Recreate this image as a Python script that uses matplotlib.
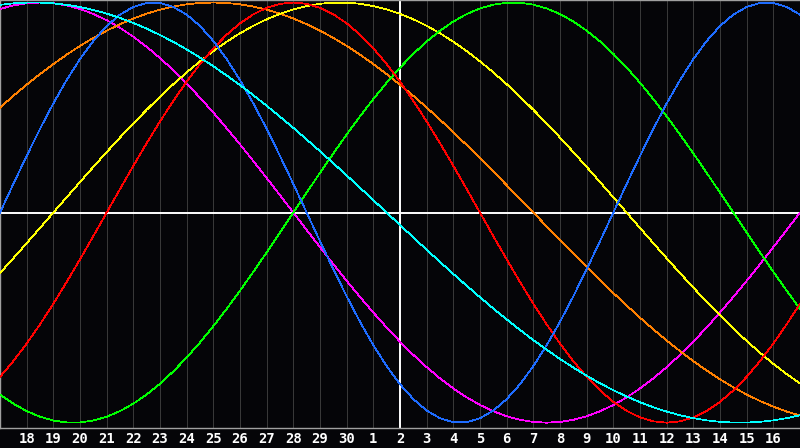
import matplotlib
matplotlib.use('Agg')
import matplotlib.pyplot as plt
import numpy as np

# day labels along the bottom (17th at both edges is not labelled)
day_labels = ['18', '19', '20', '21', '22', '23', '24', '25', '26', '27', '28', '29', '30',
              '1', '2', '3', '4', '5', '6', '7', '8', '9', '10', '11', '12', '13', '14', '15', '16']

# values every half day, from day 17 to day 17 of next month (61 points each)
physical = [0.0, 0.1362, 0.2698, 0.3984, 0.5196, 0.6311, 0.7308, 0.8170, 0.8879, 0.9423,
            0.9791, 0.9977, 0.9977, 0.9791, 0.9423, 0.8879, 0.8170, 0.7308, 0.6311, 0.5196,
            0.3984, 0.2698, 0.1362, 0.0, -0.1362, -0.2698, -0.3984, -0.5196, -0.6311, -0.7308,
            -0.8170, -0.8879, -0.9423, -0.9791, -0.9977, -0.9977, -0.9791, -0.9423, -0.8879, -0.8170,
            -0.7308, -0.6311, -0.5196, -0.3984, -0.2698, -0.1362, 0.0, 0.1362, 0.2698, 0.3984,
            0.5196, 0.6311, 0.7308, 0.8170, 0.8879, 0.9423, 0.9791, 0.9977, 0.9977, 0.9791,
            0.9423]
emotional = [-0.7818, -0.7071, -0.6235, -0.5320, -0.4339, -0.3303, -0.2225, -0.1120, 0.0, 0.1120,
             0.2225, 0.3303, 0.4339, 0.5320, 0.6235, 0.7071, 0.7818, 0.8467, 0.9010, 0.9439,
             0.9749, 0.9937, 1.0, 0.9937, 0.9749, 0.9439, 0.9010, 0.8467, 0.7818, 0.7071,
             0.6235, 0.5320, 0.4339, 0.3303, 0.2225, 0.1120, 0.0, -0.1120, -0.2225, -0.3303,
             -0.4339, -0.5320, -0.6235, -0.7071, -0.7818, -0.8467, -0.9010, -0.9439, -0.9749, -0.9937,
             -1.0, -0.9937, -0.9749, -0.9439, -0.9010, -0.8467, -0.7818, -0.7071, -0.6235, -0.5320,
             -0.4339]
intellectual = [-0.8660, -0.9096, -0.9450, -0.9718, -0.9898, -0.9989, -0.9989, -0.9898, -0.9718, -0.9450,
                -0.9096, -0.8660, -0.8146, -0.7557, -0.6901, -0.6182, -0.5406, -0.4582, -0.3717, -0.2817,
                -0.1893, -0.0951, 0.0, 0.0951, 0.1893, 0.2817, 0.3717, 0.4582, 0.5406, 0.6182,
                0.6901, 0.7557, 0.8146, 0.8660, 0.9096, 0.9450, 0.9718, 0.9898, 0.9989, 0.9989,
                0.9898, 0.9718, 0.9450, 0.9096, 0.8660, 0.8146, 0.7557, 0.6901, 0.6182, 0.5406,
                0.4582, 0.3717, 0.2817, 0.1893, 0.0951, 0.0, -0.0951, -0.1893, -0.2817, -0.3717,
                -0.4582]
intuitive = [0.9694, 0.9864, 0.9966, 1.0, 0.9966, 0.9864, 0.9694, 0.9458, 0.9158, 0.8795,
             0.8372, 0.7891, 0.7357, 0.6773, 0.6142, 0.5469, 0.4759, 0.4017, 0.3247, 0.2455,
             0.1646, 0.0826, 0.0, -0.0826, -0.1646, -0.2455, -0.3247, -0.4017, -0.4759, -0.5469,
             -0.6142, -0.6773, -0.7357, -0.7891, -0.8372, -0.8795, -0.9158, -0.9458, -0.9694, -0.9864,
             -0.9966, -1.0, -0.9966, -0.9864, -0.9694, -0.9458, -0.9158, -0.8795, -0.8372, -0.7891,
             -0.7357, -0.6773, -0.6142, -0.5469, -0.4759, -0.4017, -0.3247, -0.2455, -0.1646, -0.0826,
             0.0]
aesthetic = [-0.2881, -0.2174, -0.1456, -0.0730, 0.0, 0.0730, 0.1456, 0.2174, 0.2881, 0.3572,
             0.4245, 0.4894, 0.5518, 0.6112, 0.6673, 0.7199, 0.7687, 0.8133, 0.8536, 0.8893,
             0.9203, 0.9464, 0.9675, 0.9834, 0.9940, 0.9993, 0.9993, 0.9940, 0.9834, 0.9675,
             0.9464, 0.9203, 0.8893, 0.8536, 0.8133, 0.7687, 0.7199, 0.6673, 0.6112, 0.5518,
             0.4894, 0.4245, 0.3572, 0.2881, 0.2174, 0.1456, 0.0730, 0.0, -0.0730, -0.1456,
             -0.2174, -0.2881, -0.3572, -0.4245, -0.4894, -0.5518, -0.6112, -0.6673, -0.7199, -0.7687,
             -0.8133]
awareness = [0.5, 0.5556, 0.6088, 0.6593, 0.7071, 0.7518, 0.7934, 0.8315, 0.8660, 0.8969,
             0.9239, 0.9469, 0.9659, 0.9808, 0.9914, 0.9979, 1.0, 0.9979, 0.9914, 0.9808,
             0.9659, 0.9469, 0.9239, 0.8969, 0.8660, 0.8315, 0.7934, 0.7518, 0.7071, 0.6593,
             0.6088, 0.5556, 0.5, 0.4423, 0.3827, 0.3214, 0.2588, 0.1951, 0.1305, 0.0654,
             0.0, -0.0654, -0.1305, -0.1951, -0.2588, -0.3214, -0.3827, -0.4423, -0.5, -0.5556,
             -0.6088, -0.6593, -0.7071, -0.7518, -0.7934, -0.8315, -0.8660, -0.8969, -0.9239, -0.9469,
             -0.9659]
spiritual = [0.9890, 0.9960, 0.9996, 0.9996, 0.9960, 0.9890, 0.9786, 0.9646, 0.9473, 0.9267,
             0.9028, 0.8757, 0.8456, 0.8125, 0.7765, 0.7378, 0.6966, 0.6528, 0.6068, 0.5586,
             0.5085, 0.4566, 0.4031, 0.3482, 0.2920, 0.2349, 0.1769, 0.1183, 0.0592, 0.0,
             -0.0592, -0.1183, -0.1769, -0.2349, -0.2920, -0.3482, -0.4031, -0.4566, -0.5085, -0.5586,
             -0.6068, -0.6528, -0.6966, -0.7378, -0.7765, -0.8125, -0.8456, -0.8757, -0.9028, -0.9267,
             -0.9473, -0.9646, -0.9786, -0.9890, -0.9960, -0.9996, -0.9996, -0.9960, -0.9890, -0.9786,
             -0.9646]

today_index = 15


def main():
    bg = '#050508'
    fig = plt.figure(figsize=(8, 4.48), dpi=100, facecolor=bg)
    ax = fig.add_axes([0, 20.5 / 448, 1, 427.5 / 448])
    ax.set_facecolor(bg)

    days = np.arange(len(physical)) / 2

    # white cross: today and the zero line
    ax.axhline(0, color='white', linewidth=1.4, zorder=2)
    ax.axvline(today_index, color='white', linewidth=1.4, zorder=2)

    series = [
        (intuitive, '#ff00ff'),
        (awareness, '#ff8000'),
        (aesthetic, '#ffff00'),
        (intellectual, '#00ff00'),
        (emotional, '#ff0000'),
        (physical, '#1e6cff'),
        (spiritual, '#00ffff'),
    ]
    for values, color in series:
        ax.plot(days, values, color=color, linewidth=0.55, antialiased=False,
                solid_joinstyle='round', zorder=3)

    ax.set_xlim(0, 30)
    ax.set_ylim(-1.023, 1.012)
    ax.set_xticks(np.arange(1, 30))
    ax.set_xticklabels(day_labels, color='white', fontsize=10,
                       fontweight='bold', family='DejaVu Sans Mono')
    ax.tick_params(axis='x', length=0, pad=3.5)
    ax.set_yticks([])
    ax.grid(axis='x', color='#3a3a3a', linewidth=0.7, zorder=1)

    for side in ['left', 'top', 'bottom']:
        ax.spines[side].set_color('#a0a0a0')
        ax.spines[side].set_linewidth(1.0)
    ax.spines['right'].set_visible(False)

    fig.savefig('out.png', facecolor=bg)


if __name__ == '__main__':
    main()
